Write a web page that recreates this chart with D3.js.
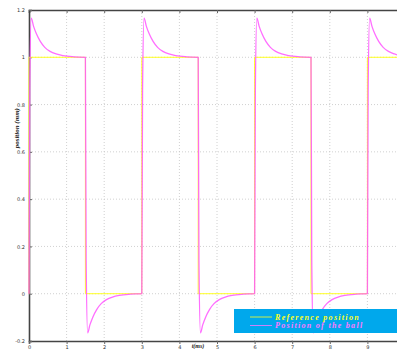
<!DOCTYPE html>
<html>
<head>
<meta charset="utf-8">
<script src="https://cdn.jsdelivr.net/npm/d3@7"></script>
<style>
  body { margin: 0; background: #fff; }
  svg { display: block; }
</style>
</head>
<body>
<svg id="chart" width="397" height="349"></svg>
<script>
// tick values
const xTicks = [0, 1, 2, 3, 4, 5, 6, 7, 8, 9];
const yTicks = [-0.2, 0, 0.2, 0.4, 0.6, 0.8, 1, 1.2];

// reference position (square wave)
const refTime = [0, 0, 1.5, 1.5, 3, 3, 4.5, 4.5, 6, 6, 7.5, 7.5, 9, 9, 10];
const refPos  = [0, 1, 1, 0, 0, 1, 1, 0, 0, 1, 1, 0, 0, 1, 1];

// ball position
const ballTime = [
  0, 0.02, 0.06, 0.12, 0.2, 0.3, 0.42, 0.56, 0.72, 0.9, 1.2,
  1.5, 1.52, 1.56, 1.62, 1.7, 1.8, 1.92, 2.06, 2.22, 2.4, 2.7,
  3, 3.02, 3.06, 3.12, 3.2, 3.3, 3.42, 3.56, 3.72, 3.9, 4.2,
  4.5, 4.52, 4.56, 4.62, 4.7, 4.8, 4.92, 5.06, 5.22, 5.4, 5.7,
  6, 6.02, 6.06, 6.12, 6.2, 6.3, 6.42, 6.56, 6.72, 6.9, 7.2,
  7.5, 7.52, 7.56, 7.62, 7.7, 7.8, 7.92, 8.06, 8.22, 8.4, 8.7,
  9, 9.02, 9.06, 9.12, 9.2, 9.3, 9.42, 9.56, 9.72, 9.9, 10
];
const ballPos = [
  0, 0.86, 1.166, 1.132, 1.098, 1.067, 1.042, 1.025, 1.014, 1.007, 1.002,
  1, 0.14, -0.166, -0.132, -0.098, -0.067, -0.042, -0.025, -0.014, -0.007, -0.002,
  0, 0.86, 1.166, 1.132, 1.098, 1.067, 1.042, 1.025, 1.014, 1.007, 1.002,
  1, 0.14, -0.166, -0.132, -0.098, -0.067, -0.042, -0.025, -0.014, -0.007, -0.002,
  0, 0.86, 1.166, 1.132, 1.098, 1.067, 1.042, 1.025, 1.014, 1.007, 1.002,
  1, 0.14, -0.166, -0.132, -0.098, -0.067, -0.042, -0.025, -0.014, -0.007, -0.002,
  0, 0.86, 1.166, 1.132, 1.098, 1.067, 1.042, 1.025, 1.014, 1.005, 1.003
];

const legendLabels = ['Reference position', 'Position of the ball'];
const colors = { ref: '#ffff22', ball: '#ff55ff' };

const margin = { top: 10, left: 29, bottom: 8 };
const width = 376;   // plot extends past the window edge
const height = 331;

const svg = d3.select('#chart');
const g = svg.append('g').attr('transform', `translate(${margin.left},${margin.top})`);

const x = d3.scaleLinear().domain([0, 10]).range([0, width]);
const y = d3.scaleLinear().domain([-0.2, 1.2]).range([height, 0]);

// grid
g.append('g')
  .selectAll('line')
  .data(xTicks.slice(1))
  .enter().append('line')
  .attr('x1', d => x(d)).attr('x2', d => x(d))
  .attr('y1', 0).attr('y2', height)
  .attr('stroke', '#c4c4c4').attr('stroke-width', 0.8)
  .attr('stroke-dasharray', '1,2');

g.append('g')
  .selectAll('line')
  .data(yTicks.slice(1, -1))
  .enter().append('line')
  .attr('x1', 0).attr('x2', width)
  .attr('y1', d => y(d)).attr('y2', d => y(d))
  .attr('stroke', '#c4c4c4').attr('stroke-width', 0.8)
  .attr('stroke-dasharray', '1,2');

// axes
const xAxis = g.append('g')
  .attr('transform', `translate(0,${height})`)
  .call(d3.axisBottom(x).tickValues(xTicks).tickSize(3).tickPadding(1).tickFormat(d3.format('d')));
const xTop = g.append('g')
  .call(d3.axisTop(x).tickValues(xTicks).tickSize(-3).tickFormat(''));
const yAxis = g.append('g')
  .call(d3.axisLeft(y).tickValues(yTicks).tickSize(-3).tickPadding(4).tickFormat(d => d));

[xAxis, xTop, yAxis].forEach(a => {
  a.select('.domain').attr('stroke', '#444').attr('stroke-width', 1.6);
  a.selectAll('.tick line').attr('stroke', '#666');
  a.selectAll('text').attr('font-family', 'DejaVu Sans').attr('font-size', 5).attr('fill', '#333');
});

const line = d3.line().x(d => x(d[0])).y(d => y(d[1]));

// reference
g.append('path')
  .datum(refTime.map((t, i) => [t, refPos[i]]))
  .attr('fill', 'none')
  .attr('stroke', colors.ref)
  .attr('stroke-width', 1)
  .attr('d', line);

// ball
g.append('path')
  .datum(ballTime.map((t, i) => [t, ballPos[i]]))
  .attr('fill', 'none')
  .attr('stroke', colors.ball)
  .attr('stroke-opacity', 0.85)
  .attr('stroke-width', 1.3)
  .attr('d', d3.line().x(d => x(d[0])).y(d => y(d[1])).curve(d3.curveMonotoneX));

// axis labels
svg.append('text')
  .attr('transform', `translate(19,${margin.top + y(0.7)}) rotate(-90)`)
  .attr('text-anchor', 'middle')
  .attr('font-family', 'Liberation Serif')
  .attr('font-style', 'italic')
  .attr('font-weight', 'bold')
  .attr('font-size', 7)
  .attr('fill', '#222')
  .text('position (mm)');

svg.append('text')
  .attr('x', 198)
  .attr('y', 348)
  .attr('text-anchor', 'middle')
  .attr('font-family', 'Liberation Serif')
  .attr('font-style', 'italic')
  .attr('font-weight', 'bold')
  .attr('font-size', 6)
  .attr('fill', '#222')
  .text('t(ms)');

// legend
const legend = svg.append('g').attr('transform', 'translate(234,309)');
legend.append('rect')
  .attr('width', 170).attr('height', 24)
  .attr('fill', '#00a8ec');

const legendColors = [colors.ref, '#ff77ff'];
legendLabels.forEach((label, i) => {
  legend.append('line')
    .attr('x1', 16).attr('x2', 38)
    .attr('y1', 8 + i * 8.5).attr('y2', 8 + i * 8.5)
    .attr('stroke', legendColors[i])
    .attr('stroke-width', 0.8);
  legend.append('text')
    .attr('x', 41)
    .attr('y', 8 + i * 8.5)
    .attr('dy', '0.32em')
    .attr('font-family', 'Liberation Serif')
    .attr('font-style', 'italic')
    .attr('font-weight', 'bold')
    .attr('font-size', 8)
    .attr('letter-spacing', 1.3)
    .attr('fill', legendColors[i])
    .text(label);
});
</script>
</body>
</html>
